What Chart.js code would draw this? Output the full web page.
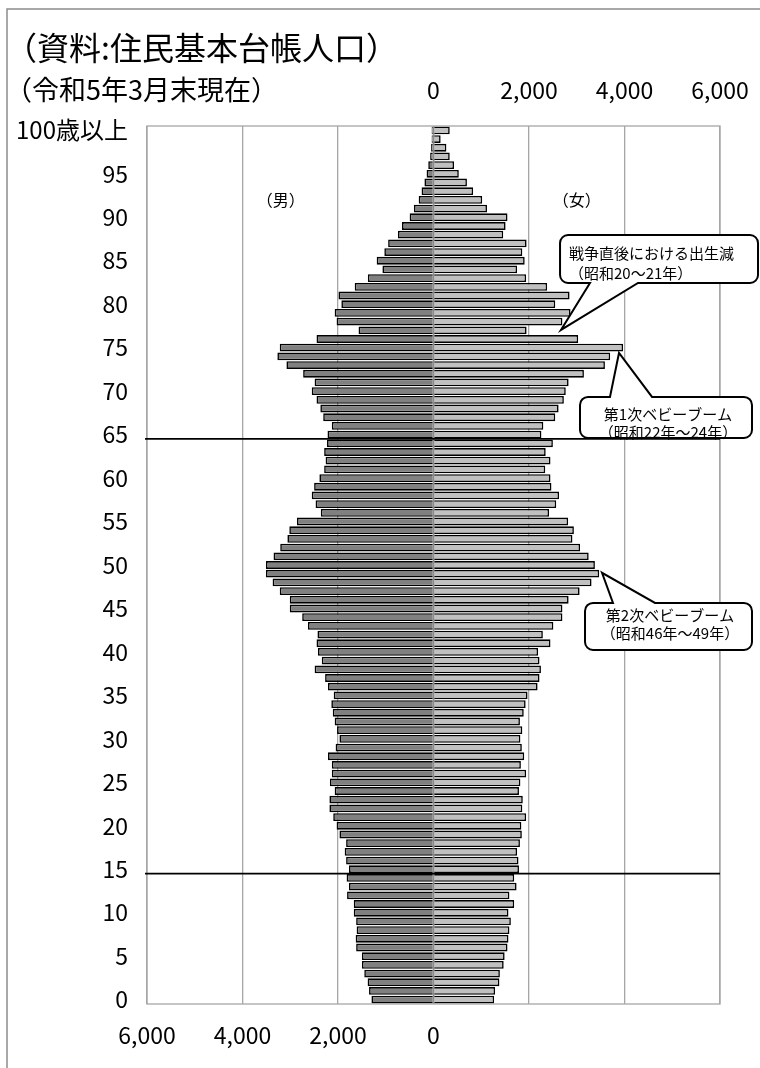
<!DOCTYPE html>
<html><head><meta charset="utf-8">
<script src="https://cdn.jsdelivr.net/npm/chart.js@4.4.0/dist/chart.umd.min.js"></script>
<style>html,body{margin:0;padding:0;background:#fff;}canvas{display:block;}</style>
</head><body>
<canvas id="c" width="760" height="1068"></canvas>
<script>
// ---- data (ages 0 .. 100歳以上) ----
const ageLabels = ['0','1','2','3','4','5','6','7','8','9','10','11','12','13','14','15','16','17','18','19',
'20','21','22','23','24','25','26','27','28','29','30','31','32','33','34','35','36','37','38','39',
'40','41','42','43','44','45','46','47','48','49','50','51','52','53','54','55','56','57','58','59',
'60','61','62','63','64','65','66','67','68','69','70','71','72','73','74','75','76','77','78','79',
'80','81','82','83','84','85','86','87','88','89','90','91','92','93','94','95','96','97','98','99','100歳以上'];

const maleValues = [1300,1350,1380,1450,1500,1500,1620,1630,1610,1620,
1670,1670,1810,1770,1820,1770,1830,1860,1830,1970,
2030,2100,2180,2180,2070,2170,2130,2130,2210,2050,
1970,2020,2070,2110,2140,2090,2210,2270,2490,2340,
2420,2450,2430,2630,2750,3010,3010,3220,3370,3510,
3510,3350,3210,3060,3020,2860,2360,2470,2550,2500,
2390,2290,2260,2290,2230,2220,2130,2310,2370,2450,
2550,2490,2730,3080,3270,3220,2450,1570,2030,2070,
1930,1990,1650,1375,1070,1190,1030,950,745,660,
500,410,310,250,190,145,110,70,50,40,40];

const femaleValues = [1270,1290,1380,1390,1470,1490,1550,1570,1590,1620,
1570,1690,1590,1740,1690,1790,1780,1750,1810,1850,
1840,1940,1860,1870,1790,1820,1940,1830,1900,1850,
1820,1860,1810,1890,1930,1970,2180,2220,2250,2220,
2190,2450,2290,2510,2700,2700,2830,3060,3310,3470,
3380,3250,3070,2910,2940,2820,2420,2570,2630,2470,
2450,2340,2450,2350,2500,2260,2300,2550,2620,2730,
2770,2830,3150,3590,3700,3970,3030,1950,2700,2870,
2550,2850,2380,1940,1750,1910,1860,1950,1460,1510,
1550,1120,1020,830,700,530,430,340,270,150,340];

const xTickValues = [-6000,-4000,-2000,0,2000,4000,6000];
const guideAges = [65, 15];
const yLabelStep = 5;

const titleText = '（資料:住民基本台帳人口）';
const subtitleText = '（令和5年3月末現在）';
const sideLabels = [
  {text:'（男）', value:-3200, age:92},
  {text:'（女）', value:3000, age:92}
];
// callouts in data units (value, age)
const callouts = [
  {lines:['戦争直後における出生減','（昭和20〜21年）'], align:'left',
   box:[2650,87.96,6796,82.44], side:'bottom', base:[3277,4283], tip:[2670,77.04],
   textX:2838, textAges:[85.89,83.59]},
  {lines:['第1次ベビーブーム','（昭和22年〜24年）'], align:'center',
   box:[3068,69.33,6670,64.61], side:'top', base:[3696,4576], tip:[3885,74.39],
   textX:4911, textAges:[67.37,65.30]},
  {lines:['第2次ベビーブーム','（昭和46年〜49年）'], align:'center',
   box:[3173,45.64,6670,40.23], side:'top', base:[3759,4639], tip:[3529,49.10],
   textX:4953, textAges:[44.26,42.19]}
];

const JP = "'Noto Sans CJK JP','Noto Sans',sans-serif";
const GRID = '#a6a6a6';
const fmt = v => Math.abs(v).toLocaleString('en-US');

function calloutPath(ctx, x1, y1, x2, y2, r, side, b1, b2, tx, ty) {
  ctx.beginPath();
  ctx.moveTo(x1 + r, y1);
  if (side === 'top') { ctx.lineTo(b1, y1); ctx.lineTo(tx, ty); ctx.lineTo(b2, y1); }
  ctx.lineTo(x2 - r, y1);
  ctx.arcTo(x2, y1, x2, y1 + r, r);
  ctx.lineTo(x2, y2 - r);
  ctx.arcTo(x2, y2, x2 - r, y2, r);
  if (side === 'bottom') { ctx.lineTo(b2, y2); ctx.lineTo(tx, ty); ctx.lineTo(b1, y2); }
  ctx.lineTo(x1 + r, y2);
  ctx.arcTo(x1, y2, x1, y2 - r, r);
  ctx.lineTo(x1, y1 + r);
  ctx.arcTo(x1, y1, x1 + r, y1, r);
  ctx.closePath();
}

const decor = {
  id: 'decor',
  beforeDraw(chart) {
    const ctx = chart.ctx;
    ctx.save();
    ctx.fillStyle = '#fff';
    ctx.fillRect(0, 0, chart.width, chart.height);
    ctx.strokeStyle = '#8c8c8c';
    ctx.lineWidth = 1.5;
    ctx.beginPath();
    ctx.moveTo(7, chart.height); ctx.lineTo(7, 9); ctx.lineTo(chart.width, 9);
    ctx.stroke();
    ctx.restore();
  },
  afterDatasetsDraw(chart) {
    const ctx = chart.ctx, a = chart.chartArea;
    const xs = chart.scales.x, ys = chart.scales.y;
    ctx.save();
    ctx.strokeStyle = '#8a8a8a';
    ctx.lineWidth = 1.5;
    const x0 = xs.getPixelForValue(0);
    ctx.beginPath(); ctx.moveTo(x0, a.top); ctx.lineTo(x0, a.bottom); ctx.stroke();
    ctx.strokeStyle = GRID; ctx.lineWidth = 1.3;
    ctx.strokeRect(a.left, a.top, a.right - a.left, a.bottom - a.top);
    ctx.strokeStyle = '#000'; ctx.lineWidth = 1.8;
    guideAges.forEach(age => {
      const i = ageLabels.indexOf(String(age));
      const y = (ys.getPixelForValue(i) + ys.getPixelForValue(i - 1)) / 2;
      ctx.beginPath(); ctx.moveTo(a.left - 2, y); ctx.lineTo(a.right, y); ctx.stroke();
    });
    ctx.restore();
  },
  afterDraw(chart) {
    const ctx = chart.ctx;
    const xs = chart.scales.x, ys = chart.scales.y;
    ctx.save();
    ctx.fillStyle = '#000';
    ctx.textBaseline = 'middle';
    ctx.textAlign = 'left';
    ctx.font = '32px ' + JP;
    ctx.fillText(titleText, 5, 48);
    ctx.font = '27px ' + JP;
    ctx.fillText(subtitleText, 5, 90);
    ctx.font = '16px ' + JP;
    ctx.textAlign = 'center';
    sideLabels.forEach(s => ctx.fillText(s.text, xs.getPixelForValue(s.value), ys.getPixelForValue(s.age)));
    callouts.forEach(c => {
      const x1 = xs.getPixelForValue(c.box[0]), y1 = ys.getPixelForValue(c.box[1]);
      const x2 = xs.getPixelForValue(c.box[2]), y2 = ys.getPixelForValue(c.box[3]);
      const b1 = xs.getPixelForValue(c.base[0]), b2 = xs.getPixelForValue(c.base[1]);
      const tx = xs.getPixelForValue(c.tip[0]), ty = ys.getPixelForValue(c.tip[1]);
      calloutPath(ctx, x1, y1, x2, y2, 8, c.side, b1, b2, tx, ty);
      ctx.fillStyle = '#fff'; ctx.fill();
      ctx.strokeStyle = '#000'; ctx.lineWidth = 2; ctx.lineJoin = 'miter'; ctx.stroke();
      ctx.fillStyle = '#000';
      ctx.font = '15px ' + JP;
      ctx.textAlign = c.align;
      c.lines.forEach((t, k) => ctx.fillText(t, xs.getPixelForValue(c.textX), ys.getPixelForValue(c.textAges[k])));
    });
    ctx.restore();
  }
};

const noSidePad = s => { s.paddingLeft = 0; s.paddingRight = 0; };

new Chart(document.getElementById('c'), {
  type: 'bar',
  data: {
    labels: ageLabels,
    datasets: [
      {label: '男', data: maleValues.map(v => -v), backgroundColor: '#808080', borderColor: '#000', borderWidth: 1.6,
       barPercentage: 0.9, categoryPercentage: 1},
      {label: '女', data: femaleValues, backgroundColor: '#c0c0c0', borderColor: '#000', borderWidth: 1.6,
       barPercentage: 0.9, categoryPercentage: 1}
    ]
  },
  options: {
    indexAxis: 'y',
    responsive: false,
    animation: false,
    layout: {padding: {left: 0, right: 40, top: 0, bottom: 0}},
    plugins: {legend: {display: false}, tooltip: {enabled: false}},
    scales: {
      x: {
        type: 'linear', position: 'bottom', min: -6000, max: 6000, stacked: true,
        afterBuildTicks: s => { s.ticks = xTickValues.map(v => ({value: v})); },
        afterFit: s => { s.height = 64; noSidePad(s); },
        ticks: {autoSkip: false, maxRotation: 0, padding: 17, color: '#000', font: {family: JP, size: 23},
                callback: v => v <= 0 ? fmt(v) : ''},
        grid: {color: GRID, lineWidth: 1.3, drawTicks: false},
        border: {display: false}
      },
      x2: {
        type: 'linear', position: 'top', min: -6000, max: 6000,
        afterBuildTicks: s => { s.ticks = xTickValues.map(v => ({value: v})); },
        afterFit: s => { s.height = 126; noSidePad(s); },
        ticks: {autoSkip: false, maxRotation: 0, padding: 22, color: '#000', font: {family: JP, size: 23},
                callback: v => v >= 0 ? fmt(v) : ''},
        grid: {display: false, drawTicks: false},
        border: {display: false}
      },
      y: {
        reverse: true, stacked: true,
        afterFit: s => { s.width = 147; s.paddingTop = 0; s.paddingBottom = 0; },
        ticks: {autoSkip: false, padding: 19, color: '#000',
                font: c => ({family: JP, size: (c.index === ageLabels.length - 1) ? 24 : 23}),
                callback: (v, i) => (i % yLabelStep === 0) ? ageLabels[i] : ''},
        grid: {display: false, drawTicks: false},
        border: {display: false}
      }
    }
  },
  plugins: [decor]
});
</script>
</body></html>
